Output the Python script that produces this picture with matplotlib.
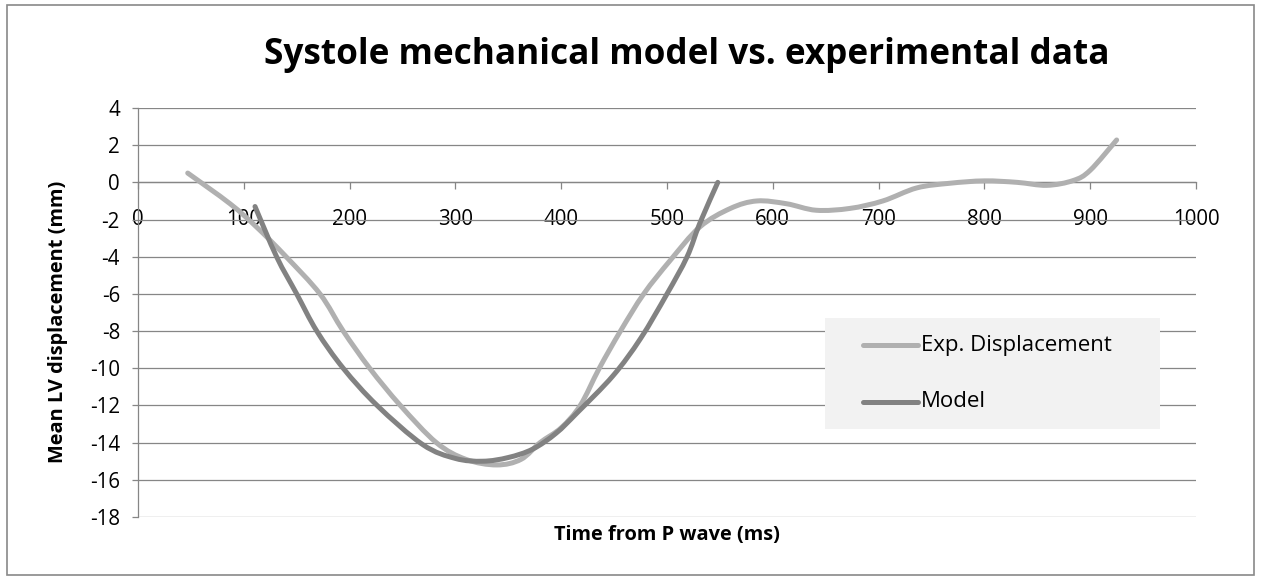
"""Systole mechanical model vs. experimental data (Excel-style smoothed line chart)."""
import matplotlib
matplotlib.use("Agg")
import matplotlib.pyplot as plt
import numpy as np
from matplotlib.patches import Rectangle, PathPatch
from matplotlib.path import Path

plt.rcParams["font.family"] = ["Open Sans", "DejaVu Sans"]
plt.rcParams["axes.unicode_minus"] = False

# ── data ────────────────────────────────────────────────────────────────────
exp_t = [47, 87, 112, 140, 172, 194, 219, 248, 282, 310, 339, 362, 380, 400,
         418, 436, 456, 478, 503, 531, 560, 585, 613, 641, 673, 704, 736, 767,
         800, 831, 859, 884, 900, 925]
exp_v = [0.5, -1.15, -2.4, -4.0, -6.0, -8.0, -10.0, -12.0, -14.0, -14.9, -15.2,
         -14.9, -14.0, -13.2, -12.0, -10.0, -8.0, -6.0, -4.2, -2.4, -1.4, -1.0,
         -1.15, -1.5, -1.4, -1.0, -0.3, -0.05, 0.08, 0.0, -0.16, 0.1, 0.65, 2.28]

model_t = [110.6, 131, 150, 169, 194, 226, 269, 300, 326, 350, 373, 395, 415,
           449, 475, 500, 519, 531, 548]
model_v = [-1.3, -4.0, -6.0, -8.0, -10.0, -12.0, -14.1, -14.85, -15.0, -14.8,
           -14.35, -13.5, -12.4, -10.4, -8.4, -6.0, -4.0, -2.2, 0.0]

x_ticks = list(range(0, 1001, 100))
y_ticks = list(range(-18, 5, 2))
legend_labels = ["Exp. Displacement", "Model"]

EXP_COLOR = "#b0b0b0"
MODEL_COLOR = "#828282"
GRID_COLOR = "#868686"
LW = 3.6

W, H = 1261, 580
AX_L, AX_R, AX_T, AX_B = 138, 1196, 108, 517


def smooth_path(xs, ys):
    """Excel-like smoothed line: Catmull-Rom segments drawn as cubic Beziers."""
    p = np.column_stack([xs, ys]).astype(float)
    ext = np.vstack([p[0], p, p[-1]])
    verts = [p[0]]
    codes = [Path.MOVETO]
    for i in range(1, len(ext) - 2):
        p0, p1, p2, p3 = ext[i - 1], ext[i], ext[i + 1], ext[i + 2]
        verts += [p1 + (p2 - p0) / 6, p2 - (p3 - p1) / 6, p2]
        codes += [Path.CURVE4] * 3
    return Path(verts, codes)


def ax_frac(px, py):
    return (px - AX_L) / (AX_R - AX_L), (AX_B - py) / (AX_B - AX_T)


fig = plt.figure(figsize=(W / 100, H / 100), dpi=100)
ax = fig.add_axes([AX_L / W, 1 - AX_B / H, (AX_R - AX_L) / W, (AX_B - AX_T) / H])

# outer chart border
fig.patches.append(Rectangle((7 / W, 5 / H), 1247 / W, 570 / H,
                             transform=fig.transFigure, fill=False,
                             edgecolor="#898989", linewidth=1.2))

for xs, ys, col, z in [(exp_t, exp_v, EXP_COLOR, 3), (model_t, model_v, MODEL_COLOR, 4)]:
    patch = PathPatch(smooth_path(xs, ys), facecolor="none", edgecolor=col,
                      lw=LW, capstyle="round", joinstyle="round", zorder=z)
    ax.add_patch(patch)

ax.set_xlim(0, 1000)
ax.set_ylim(-18, 4)
ax.set_xticks(x_ticks)
ax.set_yticks(y_ticks)
ax.grid(axis="y", color=GRID_COLOR, lw=0.9, zorder=1)
ax.set_axisbelow(True)

for s in ["top", "right"]:
    ax.spines[s].set_visible(False)
ax.spines["bottom"].set_position(("data", 0))
for s in ["bottom", "left"]:
    ax.spines[s].set_color(GRID_COLOR)
    ax.spines[s].set_linewidth(0.9)

ax.tick_params(axis="x", direction="out", length=5, width=0.9, color=GRID_COLOR,
               pad=14, labelsize=14.8)
ax.tick_params(axis="y", direction="out", length=4, width=0.9, color=GRID_COLOR,
               pad=9, labelsize=14.8)

fig.text(687 / W, 1 - 55 / H, "Systole mechanical model vs. experimental data",
         ha="center", va="center", fontsize=25.3, fontweight="bold")
fig.text(667 / W, 1 - 535 / H, "Time from P wave (ms)",
         ha="center", va="center", fontsize=14.4, fontweight="bold")
fig.text(58 / W, 1 - 322 / H, "Mean LV displacement (mm)",
         ha="center", va="center", rotation=90, fontsize=14.4, fontweight="bold")

# legend box drawn Excel style: grey fill, no frame
x0, y0 = ax_frac(825, 429)
x1, y1 = ax_frac(1160, 318)
ax.add_patch(Rectangle((x0, y0), x1 - x0, y1 - y0, transform=ax.transAxes,
                       facecolor="#f2f2f2", edgecolor="none", zorder=5))
for label, col, py in zip(legend_labels, [EXP_COLOR, MODEL_COLOR], [345, 402]):
    lx0, ly = ax_frac(863, py)
    lx1, _ = ax_frac(918, py)
    ax.plot([lx0, lx1], [ly, ly], transform=ax.transAxes, color=col, lw=LW,
            solid_capstyle="round", zorder=6)
    tx, _ = ax_frac(921, py)
    ax.text(tx, ly, label, transform=ax.transAxes, ha="left", va="center",
            fontsize=16, zorder=6)

fig.savefig("out.png", dpi=100)
plt.close(fig)
